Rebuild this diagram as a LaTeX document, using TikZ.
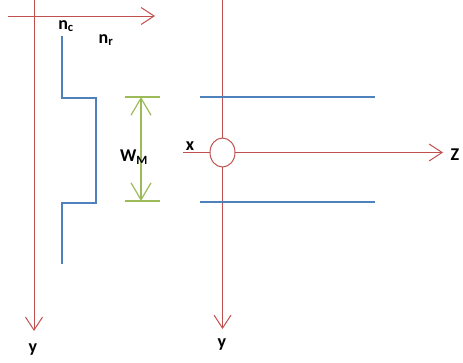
\documentclass[tikz,border=0pt]{standalone}
\usepackage{fontspec}
\setmainfont{Carlito}
\usetikzlibrary{arrows.meta,shapes.geometric}
\definecolor{axisred}{RGB}{192,80,77}
\definecolor{wallblue}{RGB}{79,129,189}
\definecolor{dimgreen}{RGB}{155,187,89}
\begin{document}
\begin{tikzpicture}[x=1pt,y=-1pt,line width=1.1pt,every node/.style={inner sep=0,outer sep=0,font=\bfseries\fontsize{18}{20}\selectfont},
  axis/.style={color=axisred,line width=1pt,-{Straight Barb[length=13pt,width=17pt,line width=1pt]}},
  wall/.style={color=wallblue,line width=1.6pt},
  dim/.style={color=dimgreen,line width=1.2pt}]
\useasboundingbox (0,0) rectangle (463,362);
% left axes
\coordinate (o1) at (34,0);
\coordinate (y1end) at (34,331);
\coordinate (r1) at (8,16);
\coordinate (r1end) at (155,16);
\draw [axis] (o1) -- (y1end);
\draw [axis] (r1) -- (r1end);
\node (nc) at (66,26) {n\textsubscript{c}};
\node (nr) at (106,40) {n\textsubscript{r}};
\node (y1) at (33,350) {y};
% blue profile
\draw [wall] (62,36) -- (62,98) -- (96,98) -- (96,203) -- (62,203) -- (62,264);
% dimension
\coordinate (wtop) at (141,97);
\coordinate (wbot) at (141,201);
\draw [dim] (125,97) -- (160,97);
\draw [dim] (125,201) -- (160,201);
\draw [dim,{Straight Barb[length=17pt,width=20pt,line width=1.2pt]}-{Straight Barb[length=17pt,width=20pt,line width=1.2pt]}] (wtop) -- (wbot);
\node (wm) at (134,157) {W\textsubscript{M}};
% right axes
\node (c) at (222.5,152.5) [ellipse,draw=axisred,line width=1pt,minimum width=25pt,minimum height=29pt,inner sep=0] {};
\coordinate (o2) at (222.5,0);
\coordinate (y2end) at (222.5,329);
\coordinate (x2) at (183,152.5);
\coordinate (z2end) at (443,152.5);
\draw [color=axisred,line width=1pt] (o2) -- (c.north);
\draw [axis] (c.south) -- (y2end);
\draw [color=axisred,line width=1pt] (x2) -- (c.west);
\draw [axis] (c.east) -- (z2end);
\node (x) at (190,146) {x};
\node (z) at (455,155) {Z};
\node (y2) at (222,345) {y};
% blue walls
\draw [wall] (200,97) -- (375,97);
\draw [wall] (200,202) -- (375,202);
\end{tikzpicture}
\end{document}
